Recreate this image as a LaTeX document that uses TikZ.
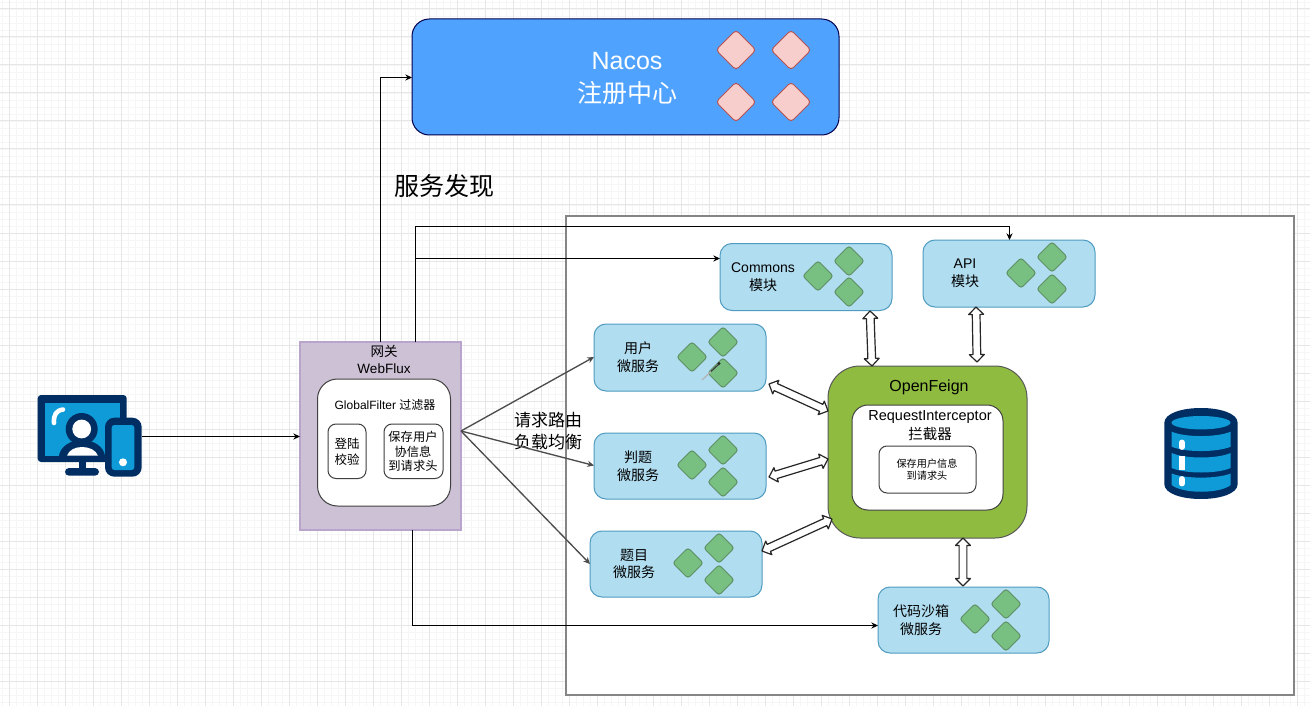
\documentclass[tikz,border=0pt]{standalone}
\usepackage{fontspec}
\setmainfont{Liberation Sans}
\newfontfamily\cjk{Noto Sans CJK SC}
\usetikzlibrary{arrows.meta,calc,shapes.geometric}
\definecolor{navy}{HTML}{002D62}
\definecolor{iconblue}{HTML}{0F9BD7}
\definecolor{gridmajor}{HTML}{E6E6E6}
\definecolor{gridminor}{HTML}{F6F6F6}
\definecolor{framegray}{HTML}{858585}
\definecolor{bluefill}{HTML}{B1DDF0}
\definecolor{bluestroke}{HTML}{4F9CC0}
\definecolor{gatefill}{HTML}{CDC1D5}
\definecolor{gatestroke}{HTML}{B9A5CB}
\definecolor{nacosfill}{HTML}{4FA3FF}
\definecolor{feignfill}{HTML}{8FBC40}
\definecolor{greenfill}{HTML}{78C081}
\definecolor{greenstroke}{HTML}{5E8F63}
\definecolor{pinkfill}{HTML}{F8CECC}
\definecolor{pinkstroke}{HTML}{B85450}
\newcommand\fsz[1]{\pgfmathsetmacro\fa{#1*0.75}\pgfmathsetmacro\fb{#1*0.95}\fontsize{\fa}{\fb}\selectfont}
\tikzset{
  plain/.style={inner sep=0pt,outer sep=0pt},
  lbl/.style={plain,align=center,text=black},
  fs/.style={font=\fsz{#1}},
  bluebox/.style={plain,draw=bluestroke,fill=bluefill,rounded corners=9pt,line width=.75pt},
  gbox/.style={plain,draw=gatestroke,fill=gatefill,line width=1.2pt},
  wbox/.style={plain,draw=black!75,fill=white,line width=.75pt},
  nacosbox/.style={plain,draw=black!70!blue,fill=nacosfill,rounded corners=13pt,line width=.75pt},
  feignbox/.style={plain,draw=black!65,fill=feignfill,rounded corners=24pt,line width=.75pt},
  greend/.style={plain,diamond,aspect=1,draw=greenstroke,fill=greenfill,rounded corners=2.2pt,line width=.75pt,minimum width=30.5*0.75pt,minimum height=30.5*0.75pt},
  pinkd/.style={plain,diamond,aspect=1,draw=pinkstroke,fill=pinkfill,rounded corners=2.6pt,line width=.75pt,minimum width=40*0.75pt,minimum height=40*0.75pt},
  conn/.style={draw=black,line width=.95pt,-{Stealth[length=5pt,width=4.6pt]}},
  grayconn/.style={draw=black!70,line width=1pt,-{Stealth[length=5pt,width=4.6pt]}},
  flex/.style={draw=black!85,fill=white,line width=.9pt,line join=round},
}
\newcommand\pxbox[6]{\node[#2,minimum width=(#5-#3)*0.75pt,minimum height=(#6-#4)*0.75pt] (#1) at ({(#3+#5)/2},{(#4+#6)/2}) {};}
\newcommand\dia[4]{\node[#1] (#2) at (#3,#4) {};}
\newcommand\flexarrow[2]{%
  \coordinate (fp) at ($(#1)!5.6pt!(#2)$);
  \coordinate (fq) at ($(#2)!5.6pt!(#1)$);
  \draw[flex] (#1) -- ($(fp)!5.6pt!90:(#2)$) -- ($(fp)!2.9pt!90:(#2)$) -- ($(fq)!2.9pt!-90:(#1)$) -- ($(fq)!5.6pt!-90:(#1)$) -- (#2)
    -- ($(fq)!5.6pt!90:(#1)$) -- ($(fq)!2.9pt!90:(#1)$) -- ($(fp)!2.9pt!-90:(#2)$) -- ($(fp)!5.6pt!-90:(#2)$) -- cycle;}
\begin{document}
\begin{tikzpicture}[x=0.75pt,y=-0.75pt]
\useasboundingbox (0,0) rectangle (1310,706);
\fill[white] (0,0) rectangle (1310,706);
% grid
\foreach \k in {0,...,187} {\draw[gridminor,line width=.5pt] ({2.3+7*\k},0) -- ({2.3+7*\k},706);}
\foreach \k in {0,...,101} {\draw[gridminor,line width=.5pt] (0,{2+7*\k}) -- (1310,{2+7*\k});}
\foreach \k in {0,...,46} {\draw[gridmajor,line width=.75pt] ({9.3+28*\k},0) -- ({9.3+28*\k},706);}
\foreach \k in {0,...,25} {\draw[gridmajor,line width=.75pt] (0,{9+28*\k}) -- (1310,{9+28*\k});}
% frame
\pxbox{frame}{plain,draw=framegray,fill=white,line width=1.1pt}{566}{216}{1294}{695}
% Nacos
\pxbox{nacos}{nacosbox}{412}{19}{839}{135}
\node[lbl,text=white,fs=25] (nacost) at (627,78) {Nacos\\[1pt]{\cjk 注册中心}};
\dia{pinkd}{n1}{736}{50}\dia{pinkd}{n2}{791}{50}\dia{pinkd}{n3}{736}{102}\dia{pinkd}{n4}{791}{102}
\node[lbl,fs=25] (disc) at (444,186) {\cjk 服务发现};
% blue boxes
\pxbox{commons}{bluebox}{720}{243.5}{892}{310.5}
\pxbox{api}{bluebox}{923}{240}{1095}{307}
\pxbox{user}{bluebox}{594}{324}{766}{391}
\pxbox{judge}{bluebox}{594}{433}{766}{499}
\pxbox{quest}{bluebox}{590}{531}{762}{597}
\pxbox{sand}{bluebox}{878}{587}{1049}{653}
\node[lbl,fs=14] (commonst) at (763,277) {Commons\\{\cjk 模块}};
\node[lbl,fs=14] (apit) at (965,273) {API\\{\cjk 模块}};
\node[lbl,fs=14] (usert) at (638,357) {{\cjk 用户}\\{\cjk 微服务}};
\node[lbl,fs=14] (judget) at (638,466) {{\cjk 判题}\\{\cjk 微服务}};
\node[lbl,fs=14] (questt) at (634,564) {{\cjk 题目}\\{\cjk 微服务}};
\node[lbl,fs=14] (sandt) at (921,620) {{\cjk 代码沙箱}\\{\cjk 微服务}};
\dia{greend}{c1}{818}{276}\dia{greend}{c2}{849}{261}\dia{greend}{c3}{849}{292}
\dia{greend}{a1}{1021}{273}\dia{greend}{a2}{1052}{257}\dia{greend}{a3}{1052}{289}
\dia{greend}{u1}{692}{357}\dia{greend}{u2}{723}{342}\dia{greend}{u3}{723}{373}
\dia{greend}{j1}{692}{465}\dia{greend}{j2}{723}{450}\dia{greend}{j3}{723}{482}
\dia{greend}{q1}{688}{563}\dia{greend}{q2}{719}{548}\dia{greend}{q3}{719}{580}
\dia{greend}{s1}{975}{619}\dia{greend}{s2}{1006}{604}\dia{greend}{s3}{1006}{636}
% stray stroke on the user box
\draw[black!30,line width=.9pt] (702,380) -- (711,371.5);
\draw[black!75,line width=.9pt] (711,371.5) -- (719,364);
\fill[black!85] (719,363.5) circle (1.6);
% OpenFeign
\pxbox{feign}{feignbox}{828}{366}{1027}{538}
\node[lbl,fs=16] (feignt) at (929,387) {OpenFeign};
\pxbox{ri}{wbox,rounded corners=12pt}{852}{405}{1003}{510}
\node[lbl,fs=14.5] (rit) at (930,425.5) {RequestInterceptor\\{\cjk 拦截器}};
\pxbox{rih}{wbox,rounded corners=6pt}{879}{446}{976}{493}
\node[lbl,font=\fontsize{7.6}{8.6}\selectfont] (riht) at (927,469.5) {{\cjk 保存用户信息}\\{\cjk 到请求头}};
% Gateway
\pxbox{gw}{gbox}{300}{342}{461}{530}
\node[lbl,fs=13.5] (gwt) at (384,359) {{\cjk 网关}\\WebFlux};
\pxbox{gf}{wbox,rounded corners=15pt}{317.5}{379}{450.5}{506}
\node[lbl,fs=12] (gft) at (385,405) {GlobalFilter {\cjk 过滤器}};
\pxbox{login}{wbox,rounded corners=6pt}{328}{424}{366}{478.5}
\node[lbl,fs=12.5] (logint) at (347,451.5) {{\cjk 登陆}\\{\cjk 校验}};
\pxbox{save}{wbox,rounded corners=6pt}{384}{424}{443}{478.5}
\node[lbl,font=\fontsize{9.2}{10.8}\selectfont] (savet) at (413,451.5) {{\cjk 保存用户}\\{\cjk 协信息}\\{\cjk 到请求头}};
\node[lbl,fs=17] (routet) at (548,431) {{\cjk 请求路由}\\{\cjk 负载均衡}};
% device icon
\node[plain] (device) at (142,436) {};
\fill[navy,rounded corners=2.5pt] (37.7,395) rectangle (126.7,462);
\fill[iconblue] (44.7,402.7) rectangle (120,455.7);
\draw[white,line width=3.4pt,line cap=round] (54,423) .. controls (53.5,415) and (56,410.5) .. (63,409.5);
\fill[navy] (59,456) .. controls (60,447) and (70,440) .. (82,440) .. controls (94,440) and (104,447) .. (105,456) -- cycle;
\fill[white] (67,455.7) .. controls (69,450) and (75,447) .. (82,447) .. controls (89,447) and (96,450) .. (98,455.7) -- cycle;
\fill[navy] (81.7,429) circle (16);
\fill[white] (81.7,429) circle (9.4);
\fill[navy] (79,462) rectangle (86,469);
\fill[navy,rounded corners=3pt] (65,468) rectangle (99,475.7);
\fill[navy,rounded corners=7pt] (105,417.7) rectangle (141.7,476.7);
\fill[iconblue,rounded corners=2pt] (111.7,425) rectangle (134.3,470);
\fill[white] (123,462.3) circle (4);
% database icon
\fill[navy] (1164.3,423) .. controls (1164.3,403) and (1237.7,403) .. (1237.7,423) -- (1237.7,484) .. controls (1237.7,504) and (1164.3,504) .. (1164.3,484) -- cycle;
\fill[iconblue] (1201,422.7) ellipse (29.5 and 6.7);
\fill[iconblue] (1171.7,431.7) .. controls (1185,437.5) and (1217,437.5) .. (1230.7,431.7) -- (1230.7,446.7) .. controls (1217,452.5) and (1185,452.5) .. (1171.7,446.7) -- cycle;
\fill[iconblue] (1171.7,453) .. controls (1185,459) and (1217,459) .. (1230.7,453) -- (1230.7,468) .. controls (1217,474) and (1185,474) .. (1171.7,468) -- cycle;
\fill[iconblue] (1171.7,473.5) .. controls (1185,479) and (1217,479) .. (1230.7,473.5) -- (1230.7,485) .. controls (1220,494) and (1182,494) .. (1171.7,485) -- cycle;
\draw[white,line width=4.4pt,line cap=round] (1181.7,442.5) -- (1181.7,447);
\draw[white,line width=4.4pt] (1181.7,455.5) -- (1181.7,470);
\draw[white,line width=4.4pt,line cap=round] (1181.7,479) -- (1181.7,483.5);
% connectors
\coordinate (gwn) at (380.5,342);
\coordinate (gwa) at (415.5,342);
\coordinate (gwb) at (412.5,530);
\coordinate (gwe) at (461,431);
\coordinate (apitop) at (1009.5,240);
\coordinate (commonsw) at (720,258.5);
\coordinate (sandw) at (878,625.5);
\coordinate (userw) at (594,357);
\coordinate (judgew) at (594,465.5);
\coordinate (questw) at (590,564);
\coordinate (deve) at (142,436.5);
\coordinate (nacosw) at (412,77.5);
\draw[conn] (deve) -- (deve -| gw.west);
\draw[conn] (gwn) |- (nacosw);
\draw[conn] (gwa) -- ++(0,-115.5) -| (apitop);
\draw[conn] (gwa |- commonsw) -- (commonsw);
\draw[conn] (gwb) |- (sandw);
\draw[grayconn] (gwe) -- (userw);
\draw[grayconn] (gwe) -- (judgew);
\draw[grayconn] (gwe) -- (questw);
% double arrows
\coordinate (f1a) at (870,311); \coordinate (f1b) at (872,366);
\coordinate (f2a) at (976,307); \coordinate (f2b) at (977,362);
\coordinate (f3a) at (769,384); \coordinate (f3b) at (828,411);
\coordinate (f4a) at (769,477); \coordinate (f4b) at (828,459);
\coordinate (f5a) at (762,551); \coordinate (f5b) at (832,519);
\coordinate (f6a) at (963,538); \coordinate (f6b) at (963,586);
\flexarrow{f1a}{f1b}
\flexarrow{f2a}{f2b}
\flexarrow{f3a}{f3b}
\flexarrow{f4a}{f4b}
\flexarrow{f5a}{f5b}
\flexarrow{f6a}{f6b}
\end{tikzpicture}
\end{document}
